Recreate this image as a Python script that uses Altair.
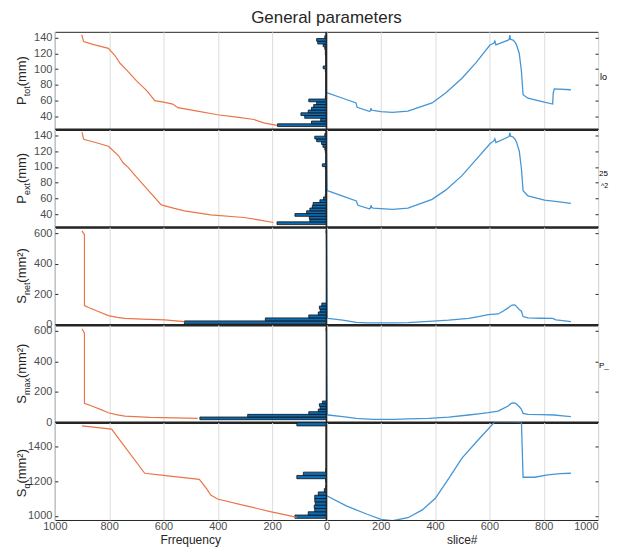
import altair as alt
import pandas as pd

FONT = "Liberation Sans"
ORANGE = "#EA7548"
BLUE_LINE = "#4596D6"
BAR_BLUE = "#0B6CB5"
DARK = "#262626"

# ---------------- data ----------------
# x tick values (left half = frequency, right half = slice#)
x_ticks = [-1000, -800, -600, -400, -200, 0, 200, 400, 600, 800, 1000]

# Row 1: P_tot
ptot_cum_freq = [901, 894, 860, 803, 780, 760, 736, 700, 660, 632, 600, 566, 547, 480, 401, 330, 267, 231, 182]
ptot_cum_val = [143.8, 135, 131.5, 126.5, 118, 107.5, 99, 85.5, 72, 60, 58, 55.6, 51, 47, 42, 39, 36, 31.7, 28.4]
ptot_hist_center = [28.75, 32.25, 35.75, 39.25, 42.75, 46.25, 49.75, 53.25, 56.75, 60.25, 63.75, 67.25,
                    70.75, 74.25, 77.75, 81.25, 84.75, 88.25, 91.75, 95.25, 98.75, 102.25, 105.75, 109.25,
                    112.75, 116.25, 119.75, 123.25, 126.75, 130.25, 133.75, 137.25, 140.75, 144.25]
ptot_hist_count = [180, 55, 21, 80, 94, 67, 55, 47, 36, 65, 4, 3, 3, 3, 3, 3, 3, 3, 3, 3, 4, 12,
                   3, 3, 3, 3, 4, 4, 6, 12, 32, 36, 6, 2]
ptot_slice = [0, 6, 60, 109, 111, 113, 158, 162, 164, 166, 172, 200, 243, 300, 389, 440, 499, 550, 602,
              616, 620, 624, 669, 673, 675, 678, 687, 695, 700, 710, 718, 724, 742, 790, 833, 835, 839, 900]
ptot_value = [70, 69.5, 63, 57, 54, 51.4, 46.3, 47, 50.5, 48, 47.5, 46, 45, 46.5, 57, 70, 88.5, 108, 130.7,
              133, 135.8, 131, 137, 138, 143.4, 138, 137, 134, 130.7, 120, 97, 67.5, 63, 59, 55.6, 70, 75, 73.8]

# Row 2: P_ext
pext_cum_freq = [900, 894, 850, 803, 766, 748, 730, 700, 660, 608, 560, 523, 426, 304, 250, 195]
pext_cum_val = [144.2, 135, 131, 126.3, 114.5, 105, 99.6, 87.5, 72, 52, 47.5, 44.5, 39.3, 36, 33, 29.7]
pext_hist_center = ptot_hist_center
pext_hist_count = [182, 61, 63, 116, 73, 61, 52, 49, 24, 11, 4, 3, 3, 3, 3, 3, 3, 3, 3, 3, 4, 15,
                   3, 3, 3, 3, 4, 6, 13, 18, 36, 43, 6, 2]
pext_slice = [0, 2, 6, 60, 110, 113, 116, 158, 162, 164, 166, 172, 200, 243, 300, 389, 440, 499, 550, 602,
              616, 620, 624, 669, 673, 675, 678, 687, 695, 700, 710, 718, 724, 742, 803, 850, 900]
pext_value = [117, 70.5, 69.8, 63, 57, 54, 51.5, 47, 48, 51.5, 49, 48, 47.3, 46.4, 48, 59, 71, 89, 109, 129.4,
              133, 135.8, 131, 138, 139, 143.4, 139, 138, 135, 131.5, 120, 97.4, 69.8, 63.4, 58, 56, 54]

# Row 3: S_net
snet_cum_freq = [900, 891, 891, 876, 840, 803, 770, 742, 680, 596, 523]
snet_cum_val = [616, 590, 125, 113, 86, 59, 48, 41, 36.5, 31, 20]
snet_hist_center = [15, 34.5, 54, 73.5, 93, 112.5, 132, 610]
snet_hist_count = [523, 225, 65, 30, 23, 26, 17, 1]
snet_slice = [0, 3, 6, 60, 110, 150, 195, 250, 300, 377, 450, 523, 560, 596, 632, 650, 669, 680, 687,
              695, 700, 710, 718, 724, 742, 790, 833, 845, 870, 900]
snet_value = [616, 45, 41, 30, 15, 12, 11, 11, 13, 22, 29, 41, 52, 66, 70, 88, 110, 126, 130,
              128, 118, 100, 88, 53, 44, 42, 41, 31, 27, 20]

# Row 4: S_max
smax_cum_freq = [900, 891, 891, 864, 830, 803, 770, 742, 650, 560, 474]
smax_cum_val = [614, 585, 124, 107, 83, 63, 49, 41, 33, 29, 26]
smax_hist_center = [26, 43.5, 61, 78.5, 96, 113.5, 131, 610]
smax_hist_count = [466, 290, 65, 30, 23, 26, 15, 1]
smax_slice = [0, 3, 6, 60, 110, 170, 250, 300, 377, 450, 523, 560, 596, 632, 650, 669, 680, 687, 695,
              700, 710, 718, 724, 742, 790, 839, 870, 900]
smax_value = [614, 52, 48, 38, 26, 20, 20, 22, 26, 34, 48, 55, 63, 74, 90, 107, 124, 128, 126,
              120, 102, 85, 59, 52, 50, 48, 43, 37]

# Row 5: S_q
sq_cum_freq = [900, 791, 760, 669, 600, 468, 440, 426, 401, 300, 207, 150, 109]
sq_cum_val = [1519, 1500, 1435, 1246, 1234, 1211, 1155, 1121, 1098, 1060, 1025, 1006, 992]
sq_hist_center = [996, 1015, 1034, 1053, 1072, 1091, 1110, 1129, 1148, 1167, 1186, 1205, 1224, 1243,
                  1262, 1281, 1300, 1319, 1338, 1357, 1376, 1395, 1414, 1433, 1452, 1471, 1490, 1509, 1528]
sq_hist_count = [116, 67, 43, 45, 41, 43, 43, 30, 8, 3, 2, 3, 109, 85,
                 3, 2, 2, 2, 2, 2, 2, 2, 2, 2, 2, 2, 2, 2, 109]
sq_slice = [0, 3, 73, 150, 201, 243, 300, 353, 401, 450, 499, 560, 620, 650, 700, 718, 724, 766, 815, 860, 900]
sq_value = [1120, 1115, 1058, 1010, 981, 973, 990, 1035, 1102, 1215, 1333, 1440, 1542, 1542, 1540, 1538,
            1223, 1223, 1237, 1244, 1246]

# ---------------- layout ----------------
W, H = 545, 97.8
ONE = pd.DataFrame({"k": [0]})
XSCALE = alt.Scale(domain=[-1000, 1000], nice=False, zero=False)


def text_piece(text, x, y, size, angle=270, align="left", baseline="alphabetic", color=DARK):
    return alt.Chart(ONE).mark_text(
        text=text, angle=angle, align=align, baseline=baseline, fontSize=size,
        font=FONT, color=color,
    ).encode(x=alt.value(x), y=alt.value(y))


def build_row(cum_freq, cum_val, hist_center, hist_count, bin_w, slices, values,
              ydomain, yticks, label_parts, bottom=False, notes=(), title=None):
    cum = pd.DataFrame({"freq": cum_freq, "val": cum_val})
    hist = pd.DataFrame({"c": hist_center, "n": hist_count})
    ser = pd.DataFrame({"s": slices, "v": values})
    yscale = alt.Scale(domain=ydomain, nice=False, zero=False)

    xaxis = alt.Axis(values=x_ticks, grid=True, gridColor="#DCDCDC", gridWidth=1, ticks=False,
                     labels=bottom, labelExpr="'' + abs(datum.value)", labelFont=FONT,
                     labelFontSize=11, labelColor="#4D4D4D", labelPadding=1, labelFlush=False,
                     labelAlign={"condition": {"test": "datum.value == 1000", "value": "right"},
                                 "value": "center"},
                     domain=not bottom, domainColor=DARK, domainWidth=2.5, title=None)
    yaxis_left = alt.Axis(values=yticks, orient="left", offset=-3, tickSize=3, tickColor=DARK,
                          labelPadding=3, domain=False, grid=False, labelFont=FONT, format="d",
                          labelFontSize=11, labelColor="#4D4D4D", title=None)
    yaxis_right = alt.Axis(values=yticks, orient="right", offset=-3, tickSize=3, tickColor=DARK,
                           labels=False, domain=False, grid=False, title=None)

    bars = alt.Chart(hist).transform_calculate(
        nx="-datum.n", zero="0",
        lo=f"datum.c - {bin_w / 2}", hi=f"datum.c + {bin_w / 2}",
    ).mark_bar(color=BAR_BLUE, stroke="#111111", strokeWidth=0.8, clip=True).encode(
        x=alt.X("nx:Q", scale=XSCALE, axis=xaxis),
        x2="zero:Q",
        y=alt.Y("lo:Q", scale=yscale, axis=yaxis_left),
        y2="hi:Q",
    )
    orange = alt.Chart(cum).transform_calculate(nf="-datum.freq").mark_line(
        color=ORANGE, strokeWidth=1.2, clip=True
    ).encode(
        x=alt.X("nf:Q", scale=XSCALE, axis=xaxis),
        y=alt.Y("val:Q", scale=yscale, axis=None),
        order="nf:Q",
    )
    blue = alt.Chart(ser).mark_line(color=BLUE_LINE, strokeWidth=1.3, clip=True).encode(
        x=alt.X("s:Q", scale=XSCALE, axis=xaxis),
        y=alt.Y("v:Q", scale=yscale, axis=yaxis_right),
        order="s:Q",
    )
    sep = alt.Chart(ONE).mark_rule(color=DARK, strokeWidth=1.5).encode(
        x=alt.X(datum=0, scale=XSCALE, axis=xaxis)
    )

    layers = [bars, orange, blue, sep]

    # y-axis title built from pieces (main letter, subscript, units)
    total = sum(p[3] for p in label_parts)
    y0 = H / 2 + total / 2
    for text, size, dx, width in label_parts:
        layers.append(text_piece(text, -29 + dx, y0, size))
        y0 -= width

    for text, x, y, size in notes:
        layers.append(text_piece(text, x, y, size, angle=0, baseline="middle", color="#000000"))

    if title is not None:
        layers.append(text_piece(title, W / 2, -8.5, 17, angle=0, align="center"))

    if bottom:
        layers.append(text_piece("Frrequency", W * 0.25, H + 24.3, 12, angle=0, align="center"))
        layers.append(text_piece("slice#", W * 0.75, H + 24.3, 12, angle=0, align="center"))

    return alt.layer(*layers).resolve_axis(y="independent").properties(width=W, height=H)


row1 = build_row(ptot_cum_freq, ptot_cum_val, ptot_hist_center, ptot_hist_count, 3.5,
                 ptot_slice, ptot_value, [23.5, 147.5], [40, 60, 80, 100, 120, 140],
                 [("P", 13, 0, 8.7), ("tot", 9, 4, 10.0), ("(mm)", 13, 0, 30.3)],
                 notes=[("lo", W + 2, 45, 9)], title="General parameters")
row2 = build_row(pext_cum_freq, pext_cum_val, pext_hist_center, pext_hist_count, 3.5,
                 pext_slice, pext_value, [24, 147.5], [40, 60, 80, 100, 120, 140],
                 [("P", 13, 0, 8.7), ("ext", 9, 4, 12.0), ("(mm)", 13, 0, 30.3)],
                 notes=[("25", W + 1, 45, 8), ("^2", W + 3, 57, 7)])
row3 = build_row(snet_cum_freq, snet_cum_val, snet_hist_center, snet_hist_count, 19.5,
                 snet_slice, snet_value, [0, 640], [0, 200, 400, 600],
                 [("S", 13, 0, 8.7), ("net", 9, 4, 12.5), ("(mm²)", 13, 0, 34.7)])
row4 = build_row(smax_cum_freq, smax_cum_val, smax_hist_center, smax_hist_count, 17.5,
                 smax_slice, smax_value, [0, 640], [0, 200, 400, 600],
                 [("S", 13, 0, 8.7), ("max", 9, 4, 17.0), ("(mm²)", 13, 0, 34.7)],
                 notes=[("P_", W + 1, 41, 8)])
row5 = build_row(sq_cum_freq, sq_cum_val, sq_hist_center, sq_hist_count, 19,
                 sq_slice, sq_value, [977, 1538], [1000, 1200, 1400],
                 [("S", 13, 0, 8.7), ("q", 9, 4, 5.0), (" (mm²)", 13, 0, 38.3)],
                 bottom=True)

chart = alt.vconcat(row1, row2, row3, row4, row5, spacing=0, bounds="flush").properties(
    padding={"left": 7, "top": 0, "right": 0, "bottom": 0}
).configure_view(stroke=DARK, strokeWidth=1)

chart.save("out.html", embed_options={"renderer": "svg", "actions": False})
